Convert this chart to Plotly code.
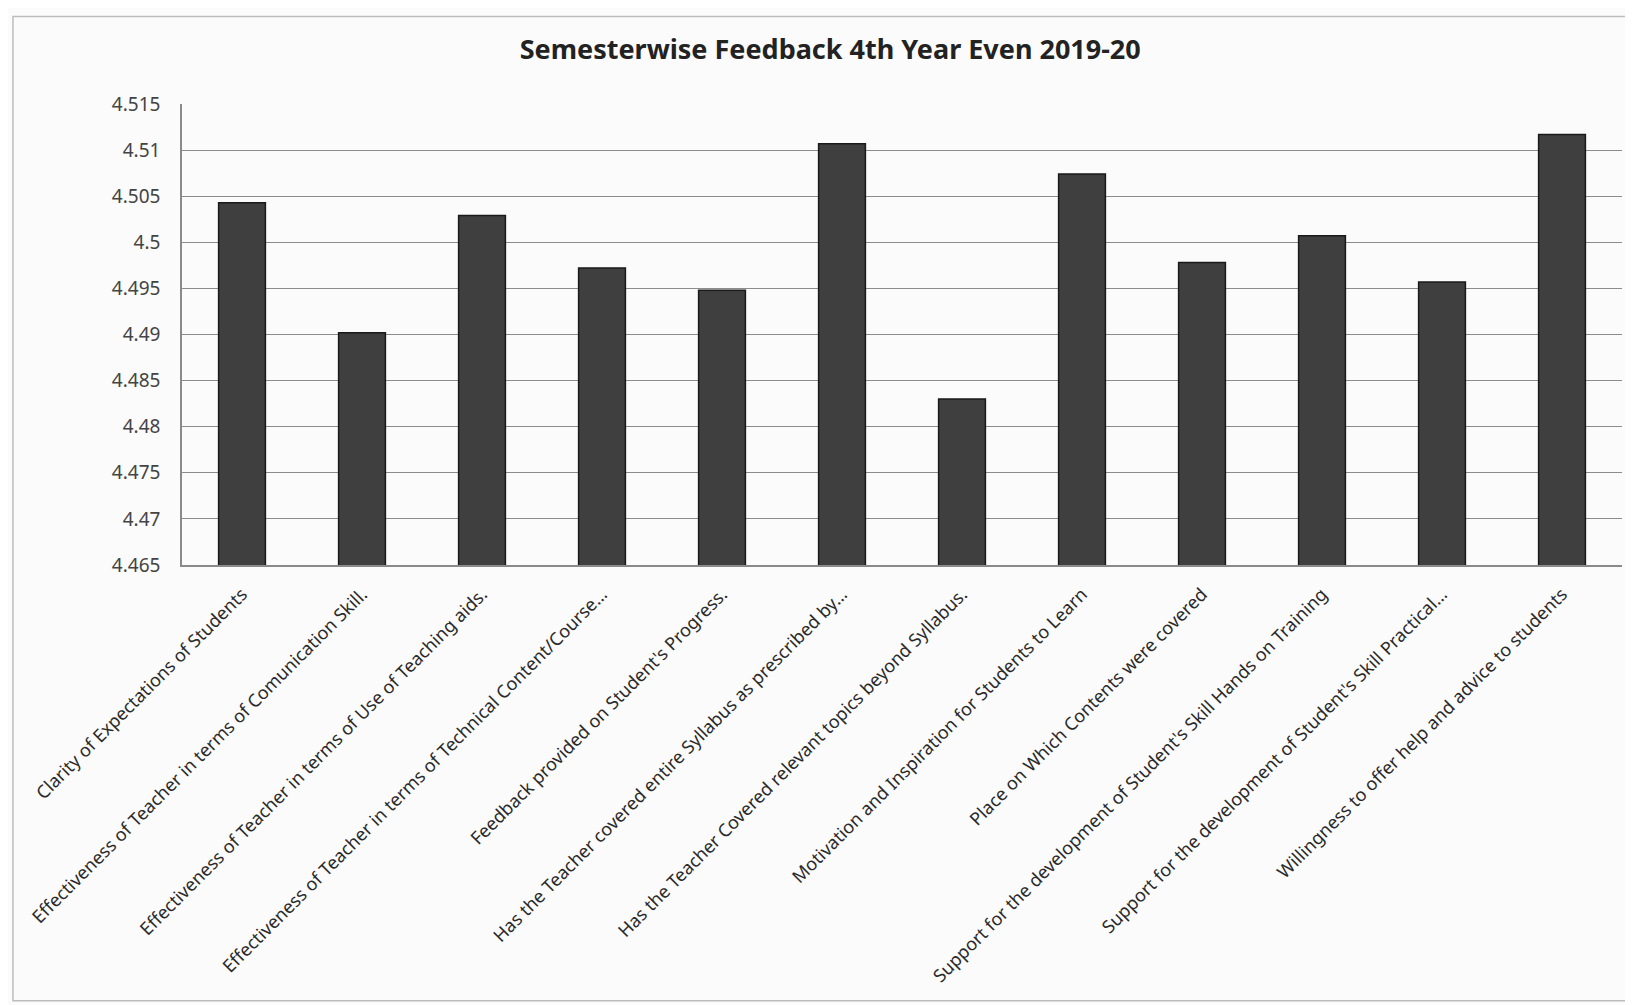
import plotly.graph_objects as go

categories = [
    "Clarity of Expectations of Students",
    "Effectiveness of Teacher in terms of Comunication Skill.",
    "Effectiveness of Teacher in terms of Use of Teaching aids.",
    "Effectiveness of Teacher in terms of Technical Content/Course…",
    "Feedback provided on Student's Progress.",
    "Has the Teacher covered entire Syllabus as prescribed by…",
    "Has the Teacher Covered relevant topics beyond Syllabus.",
    "Motivation and Inspiration for Students to Learn",
    "Place on Which Contents were covered",
    "Support for the development of Student's Skill Hands on Training",
    "Support for the development of Student's Skill Practical…",
    "Willingness to offer help and advice to students",
]
scores = [4.5043, 4.4902, 4.5029, 4.4972, 4.4948, 4.5107,
          4.4830, 4.5074, 4.4978, 4.5007, 4.4957, 4.5117]
y_ticks = [4.465, 4.47, 4.475, 4.48, 4.485, 4.49, 4.495, 4.5, 4.505, 4.51, 4.515]
y_tick_labels = ["4.465", "4.47", "4.475", "4.48", "4.485", "4.49",
                 "4.495", "4.5", "4.505", "4.51", "4.515"]
title = "Semesterwise Feedback 4th Year Even 2019-20"

fig = go.Figure(go.Bar(
    x=categories, y=scores,
    marker=dict(color="#3f3f3f", line=dict(color="#1a1a1a", width=1.5)),
))

fig.update_layout(
    width=1625, height=997,
    margin=dict(l=174, r=11, t=96, b=440),
    paper_bgcolor="#fbfbfb", plot_bgcolor="#fbfbfb",
    bargap=0.61,
    showlegend=False,
    title=dict(text="<b>" + title + "</b>", x=0.506, xanchor="center",
               y=0.958, yanchor="middle",
               font=dict(family="Noto Sans", size=27, color="#222222")),
    font=dict(family="Noto Sans", color="#333333"),
)
fig.update_xaxes(
    tickangle=-45, tickfont=dict(size=18, color="#2a2a2a"),
    showline=True, linecolor="#8a8a8a", linewidth=1.5,
    ticks="", showgrid=False, ticklabelstandoff=10,
)
fig.update_yaxes(
    range=[4.465, 4.515], tickvals=y_ticks, ticktext=y_tick_labels,
    tickfont=dict(size=19, color="#444444"),
    showgrid=True, gridcolor="#8c8c8c", gridwidth=1,
    showline=True, linecolor="#8a8a8a", linewidth=1.5,
    ticks="", zeroline=False, ticklabelstandoff=16,
)
# outer chart frame
fig.add_shape(type="rect", xref="paper", yref="paper",
              x0=-0.1174, x1=1.03, y0=-0.945, y1=1.19,
              line=dict(color="#bdbdbd", width=1.5), fillcolor="rgba(0,0,0,0)")

fig.write_html("out.html")
